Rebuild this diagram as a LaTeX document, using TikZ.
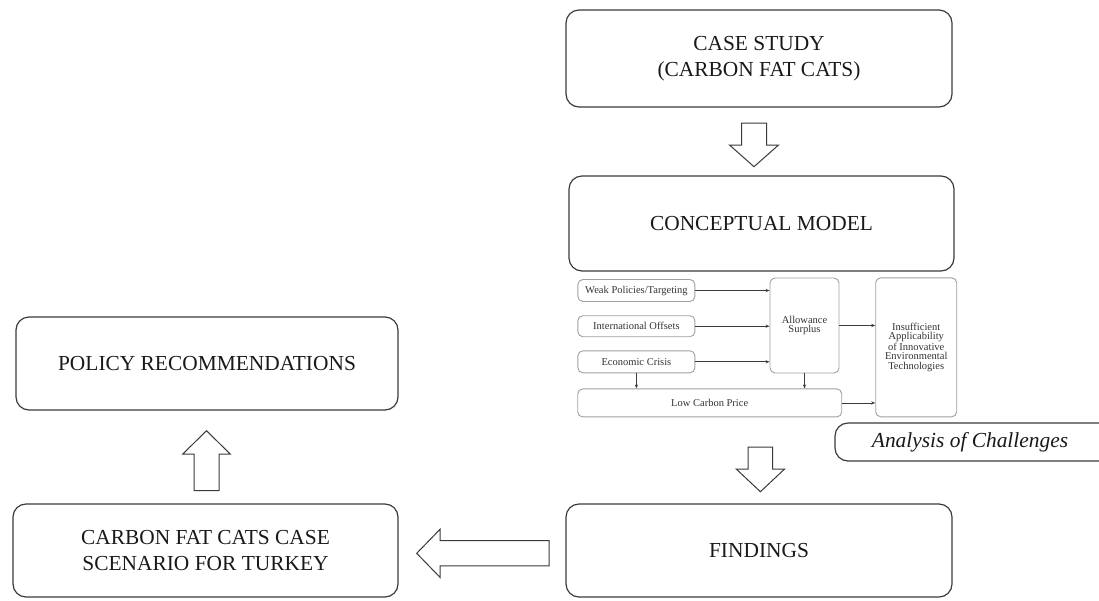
\documentclass[tikz,border=0pt]{standalone}
\usepackage{fontspec}
\setmainfont{Liberation Serif}
\usetikzlibrary{arrows.meta,calc}
\definecolor{edge}{HTML}{3A3A3A}
\definecolor{inedge}{HTML}{A0A0A0}
\definecolor{intext}{HTML}{333333}
\definecolor{inarrow}{HTML}{3C3C3C}
\tikzset{
  mainbox/.style={draw=edge, line width=1.2pt, rounded corners=13pt, inner sep=0pt,
    align=center, text=black!90, font=\fontsize{21.4}{25.5}\selectfont},
  inbox/.style={draw=inedge, line width=0.9pt, rounded corners=5pt, inner sep=0pt,
    align=center, text=intext, font=\fontsize{10.5}{9.4}\selectfont},
  inarr/.style={draw=inarrow, line width=0.8pt, -{Stealth[length=4pt,width=3.2pt]}},
  blockarrow/.style={draw=edge, line width=1pt, line join=miter, fill=white},
}
\begin{document}
\begin{tikzpicture}[x=1pt,y=-1pt]
\useasboundingbox (0,0) rectangle (1099,600);
\clip (0,0) rectangle (1099,600);

% main boxes
\node[mainbox, minimum width=386pt, minimum height=97pt] (case) at (759,58.5)
  {CASE STUDY\\(CARBON FAT CATS)};
\node[mainbox, minimum width=385pt, minimum height=95pt] (concept) at (761.5,223.5)
  {CONCEPTUAL MODEL};
\node[mainbox, minimum width=386pt, minimum height=93pt] (findings) at (759,550.5)
  {FINDINGS};
\node[mainbox, minimum width=382pt, minimum height=93pt] (policy) at (207,363.5)
  {POLICY RECOMMENDATIONS};
\node[mainbox, minimum width=385pt, minimum height=93pt] (scenario) at (205.5,550.5)
  {CARBON FAT CATS CASE\\SCENARIO FOR TURKEY};
\node[mainbox, minimum width=300pt, minimum height=38pt] (analysisbox) at (985,442) {};
\node[font=\fontsize{21.4}{25.5}\selectfont\itshape, text=black!90, inner sep=0pt]
  (analysis) at (970,442) {Analysis of Challenges};

% inner diagram
\node[inbox, minimum width=117pt, minimum height=22pt] (weak) at (636.4,290.5) {Weak Policies/Targeting};
\node[inbox, minimum width=117pt, minimum height=21pt] (intl) at (636.4,326.2) {International Offsets};
\node[inbox, minimum width=117pt, minimum height=22pt] (econ) at (636.4,361.8) {Economic Crisis};
\node[inbox, minimum width=69pt, minimum height=95pt] (allow) at (804.5,325.5) {Allowance\\Surplus};
\node[inbox, minimum width=81pt, minimum height=139pt] (insuff) at (916.2,347.3)
  {Insufficient\\Applicability\\of Innovative\\Environmental\\Technologies};
\node[inbox, minimum width=264pt, minimum height=28pt] (low) at (709.7,402.9) {Low Carbon Price};

\draw[inarr] (weak.east) -- (weak.east -| allow.west);
\draw[inarr] (intl.east) -- (intl.east -| allow.west);
\draw[inarr] (econ.east) -- (econ.east -| allow.west);
\draw[inarr] (allow.east) -- (allow.east -| insuff.west);
\draw[inarr] (econ.south) -- (econ.south |- low.north);
\draw[inarr] (allow.south) -- (allow.south |- low.north);
\draw[inarr] (low.east) -- (low.east -| insuff.west);

% block arrows
\coordinate (a1) at (754,123);
\draw[blockarrow] (a1) ++(-12.5,0) -- ++(0,22) -- ++(-12,0) -- (754,166.7) -- (778.5,145) -- ++(-12,0) -- ++(0,-22) -- cycle;
\coordinate (a2) at (760.4,447);
\draw[blockarrow] (a2) ++(-12.3,0) -- ++(0,22) -- ++(-11.9,0) -- (760.4,491.7) -- (784.6,469) -- ++(-11.9,0) -- ++(0,-22) -- cycle;
\coordinate (a3) at (549,553.3);
\draw[blockarrow] (a3) ++(0,-12.6) -- (440,540.7) -- (440,529.3) -- (416.7,553.3) -- (440,577.3) -- (440,565.9) -- (549,565.9) -- cycle;
\coordinate (a4) at (206.5,490.7);
\draw[blockarrow] (a4) ++(-12.5,0) -- (194,454) -- (182.8,454) -- (206.5,430.7) -- (230.2,454) -- (219,454) -- (219,490.7) -- cycle;
\end{tikzpicture}
\end{document}
